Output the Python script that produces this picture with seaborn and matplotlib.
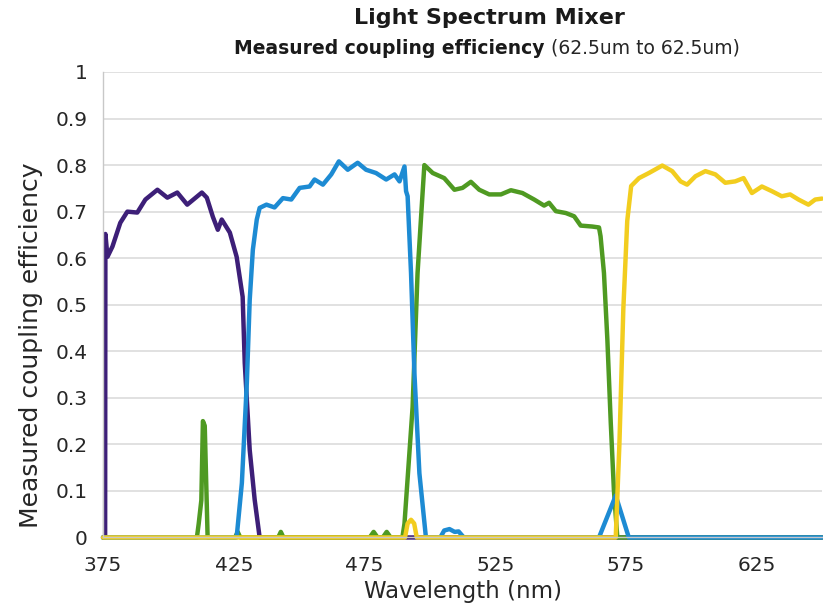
import matplotlib
matplotlib.use("Agg")
import matplotlib.pyplot as plt
import seaborn as sns

# Data (wavelength in nm, measured coupling efficiency)
violet_nm = [375, 375.8, 375.9, 376.7, 378.6, 381.6, 384.3, 388.1, 391.2, 395.8, 399.6,
             403.4, 407.2, 410.0, 412.8, 414.7, 417.0, 418.9, 420.4, 423.5, 426.1,
             428.4, 429.2, 431.1, 433.0, 434.9, 650]
violet_eff = [0, 0, 0.652, 0.603, 0.625, 0.676, 0.700, 0.698, 0.726, 0.747, 0.730,
              0.741, 0.715, 0.728, 0.741, 0.730, 0.689, 0.661, 0.683, 0.655, 0.603,
              0.517, 0.375, 0.188, 0.081, 0, 0]

green_nm = [375, 410.9, 411.6, 412.6, 413.2, 413.9, 415.0, 425.5, 426.5, 427.5, 442, 443,
            444, 477, 478.5, 480, 482, 483.5, 485, 489.5, 490.3, 493.4, 495.3, 497.3,
            497.9, 501.1, 505.5, 509.4, 512.5, 515.7, 518.9, 522.7, 527.2, 531.0, 535.4,
            539.9, 543.7, 545.6, 548.2, 552.0, 555.2, 557.7, 562.1, 564.7, 565.3, 566.6,
            567.9, 569.2, 570.4, 571.7, 650]
green_eff = [0, 0, 0.03, 0.08, 0.25, 0.24, 0, 0, 0.012, 0, 0, 0.012,
             0, 0, 0.012, 0, 0, 0.012, 0, 0, 0.03, 0.28, 0.568, 0.747,
             0.800, 0.783, 0.772, 0.747, 0.751, 0.764, 0.747, 0.737, 0.737, 0.746, 0.740,
             0.726, 0.713, 0.719, 0.701, 0.697, 0.690, 0.670, 0.668, 0.666, 0.647, 0.568,
             0.425, 0.246, 0.102, 0, 0]

blue_nm = [375, 426.1, 428.1, 430.0, 431.1, 432.3, 433.8, 434.9, 437.5, 440.6, 443.8,
           447.0, 450.2, 454.0, 455.9, 459.1, 462.3, 465.2, 468.6, 472.4, 475.6, 479.4,
           483.3, 486.5, 488.4, 490.3, 490.9, 491.5, 492.8, 494.1, 496.0, 498.5, 504,
           505.5, 507.5, 509.5, 511, 513, 564.7, 571.1, 576.1, 650]
blue_eff = [0, 0, 0.117, 0.332, 0.510, 0.618, 0.683, 0.708, 0.715, 0.709, 0.729,
            0.726, 0.751, 0.754, 0.769, 0.758, 0.780, 0.808, 0.790, 0.805, 0.790, 0.783,
            0.769, 0.780, 0.765, 0.797, 0.744, 0.733, 0.568, 0.353, 0.138, 0, 0,
            0.015, 0.018, 0.012, 0.013, 0, 0, 0.09, 0, 0]

yellow_nm = [375, 490.5, 491.5, 492.8, 494.0, 495.0, 571.1, 572.5, 574.0, 575.5, 577.0,
             580.0, 583.8, 588.9, 592.7, 595.9, 598.4, 601.6, 605.4, 609.2, 613.0, 616.8,
             620.0, 623.2, 627.0, 630.8, 634.6, 637.8, 641.0, 644.8, 647.4, 650]
yellow_eff = [0, 0, 0.03, 0.038, 0.03, 0, 0, 0.20, 0.49, 0.68, 0.755,
              0.772, 0.783, 0.799, 0.787, 0.765, 0.758, 0.776, 0.787, 0.780, 0.762, 0.765,
              0.772, 0.740, 0.754, 0.744, 0.733, 0.737, 0.726, 0.715, 0.726, 0.728]

x_ticks = [375, 425, 475, 525, 575, 625]
y_ticks = [0, 0.1, 0.2, 0.3, 0.4, 0.5, 0.6, 0.7, 0.8, 0.9, 1]
y_tick_labels = ["0", "0.1", "0.2", "0.3", "0.4", "0.5", "0.6", "0.7", "0.8", "0.9", "1"]

# draw order matters: later series sit on top
series = [
    (violet_nm, violet_eff, "#3d1f78"),
    (green_nm, green_eff, "#4f9a22"),
    (blue_nm, blue_eff, "#1d8bd3"),
    (yellow_nm, yellow_eff, "#f2cd1f"),
]

sns.set_theme(style="white")
plt.rcParams["font.family"] = ["DejaVu Sans"]

fig = plt.figure(figsize=(8.23, 6.08), dpi=100)
ax = fig.add_axes([0.1252, 0.1160, 0.8736, 0.7656])

for nm, eff, color in series:
    sns.lineplot(x=nm, y=eff, color=color, lw=3.2, ax=ax, estimator=None,
                 sort=False, clip_on=False, solid_joinstyle="round")

ax.set_xlim(375, 650)
ax.set_ylim(0, 1)
ax.set_xticks(x_ticks)
ax.set_yticks(y_ticks)
ax.set_yticklabels(y_tick_labels)
ax.grid(axis="y", color="#d9d9d9", lw=1.1)
ax.grid(axis="x", visible=False)
ax.set_axisbelow(True)

for side in ["top", "right"]:
    ax.spines[side].set_visible(False)
for side in ["left", "bottom"]:
    ax.spines[side].set_color("#c8c8c8")
    ax.spines[side].set_linewidth(1.0)

ax.tick_params(axis="both", which="major", direction="out", length=3,
               color="#c8c8c8", labelsize=14.5, labelcolor="#262626")
ax.tick_params(axis="y", pad=8)
ax.tick_params(axis="x", pad=10)

ax.set_xlabel("Wavelength (nm)", fontsize=16.5, color="#262626", labelpad=4)
ax.set_ylabel("Measured coupling efficiency", fontsize=18, color="#262626")
ax.yaxis.set_label_coords(-0.083, 0.414)

fig.text(0.595, 0.970, "Light Spectrum Mixer", ha="center", va="center",
         fontsize=16, fontweight="bold", color="#1a1a1a")

# subtitle: bold part followed by a regular part, centred together
sub_bold = fig.text(0, 0.921, "Measured coupling efficiency", ha="left", va="center",
                    fontsize=13.5, fontweight="bold", color="#1a1a1a")
sub_norm = fig.text(0, 0.921, " (62.5um to 62.5um)", ha="left", va="center",
                    fontsize=13.5, color="#262626")
fig.canvas.draw()
r = fig.canvas.get_renderer()
w_bold = sub_bold.get_window_extent(r).width / fig.bbox.width
w_norm = sub_norm.get_window_extent(r).width / fig.bbox.width
x0 = 487 / 823 - (w_bold + w_norm) / 2
sub_bold.set_x(x0)
sub_norm.set_x(x0 + w_bold)

fig.savefig("out.png", dpi=100)
